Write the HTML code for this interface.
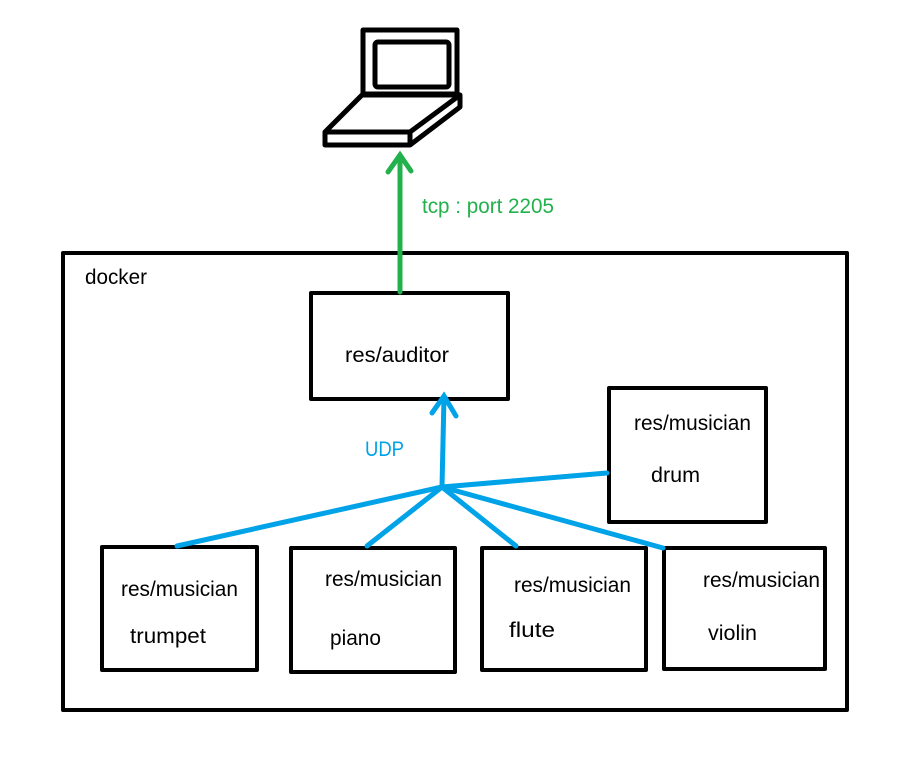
<!DOCTYPE html>
<html><head><meta charset="utf-8"><style>
html,body{margin:0;padding:0;background:#fff;}
svg{display:block;}
text{font-family:"Liberation Sans",sans-serif;font-size:21px;}
</style></head><body>
<svg width="916" height="771" viewBox="0 0 916 771" xmlns="http://www.w3.org/2000/svg">
<rect width="916" height="771" fill="#fff"/>
<g fill="none" stroke="#000" stroke-width="4" stroke-linejoin="round">
  <rect x="363" y="30" width="94" height="64" stroke-width="5"/>
  <rect x="375" y="42" width="74" height="45" rx="3" stroke-width="5"/>
  <path d="M362 95 L460 95 L410 132 L325 132 Z" stroke-width="5"/>
  <path d="M325 132 L325 145 L410 145 L410 132" stroke-width="5"/>
  <path d="M410 145 L460 107 L460 95" stroke-width="5"/>
  <rect x="63" y="253" width="784" height="457"/>
  <rect x="311" y="293" width="197" height="106"/>
  <rect x="609" y="388" width="157" height="134"/>
  <rect x="102" y="547" width="155" height="123"/>
  <rect x="291" y="548" width="164" height="124"/>
  <rect x="482" y="548" width="164" height="122"/>
  <rect x="664" y="548" width="161" height="121"/>
</g>
<g stroke="#22b14c" stroke-width="5" fill="none" stroke-linecap="round">
  <path d="M400 292 L400 155"/>
  <path d="M388 172 L400 155 L411 171"/>
</g>
<g stroke="#00a2e8" stroke-width="5" fill="none" stroke-linecap="round">
  <path d="M442 487 L444 397"/>
  <path d="M432 413 L444 396 L456 416"/>
  <path d="M442 487 L177 546"/>
  <path d="M442 487 L367 546"/>
  <path d="M442 487 L516 546"/>
  <path d="M442 487 L663 548"/>
  <path d="M442 487 L607 473"/>
</g>
<g lengthAdjust="spacingAndGlyphs">
<text x="85" y="284" textLength="62" lengthAdjust="spacingAndGlyphs">docker</text>
<text x="422" y="213" fill="#22b14c" textLength="132" lengthAdjust="spacingAndGlyphs">tcp : port 2205</text>
<text x="345" y="362" textLength="104" lengthAdjust="spacingAndGlyphs">res/auditor</text>
<text x="365" y="456" fill="#00a2e8" textLength="39" lengthAdjust="spacingAndGlyphs">UDP</text>
<text x="634" y="430" textLength="117" lengthAdjust="spacingAndGlyphs">res/musician</text>
<text x="651" y="482" textLength="49" lengthAdjust="spacingAndGlyphs">drum</text>
<text x="121" y="596" textLength="117" lengthAdjust="spacingAndGlyphs">res/musician</text>
<text x="130" y="643" textLength="76" lengthAdjust="spacingAndGlyphs">trumpet</text>
<text x="325" y="586" textLength="117" lengthAdjust="spacingAndGlyphs">res/musician</text>
<text x="330" y="645" textLength="51" lengthAdjust="spacingAndGlyphs">piano</text>
<text x="514" y="592" textLength="117" lengthAdjust="spacingAndGlyphs">res/musician</text>
<text x="509" y="637" textLength="46" lengthAdjust="spacingAndGlyphs">flute</text>
<text x="703" y="587" textLength="117" lengthAdjust="spacingAndGlyphs">res/musician</text>
<text x="708" y="640" textLength="49" lengthAdjust="spacingAndGlyphs">violin</text>
</g>
</svg>
</body></html>
